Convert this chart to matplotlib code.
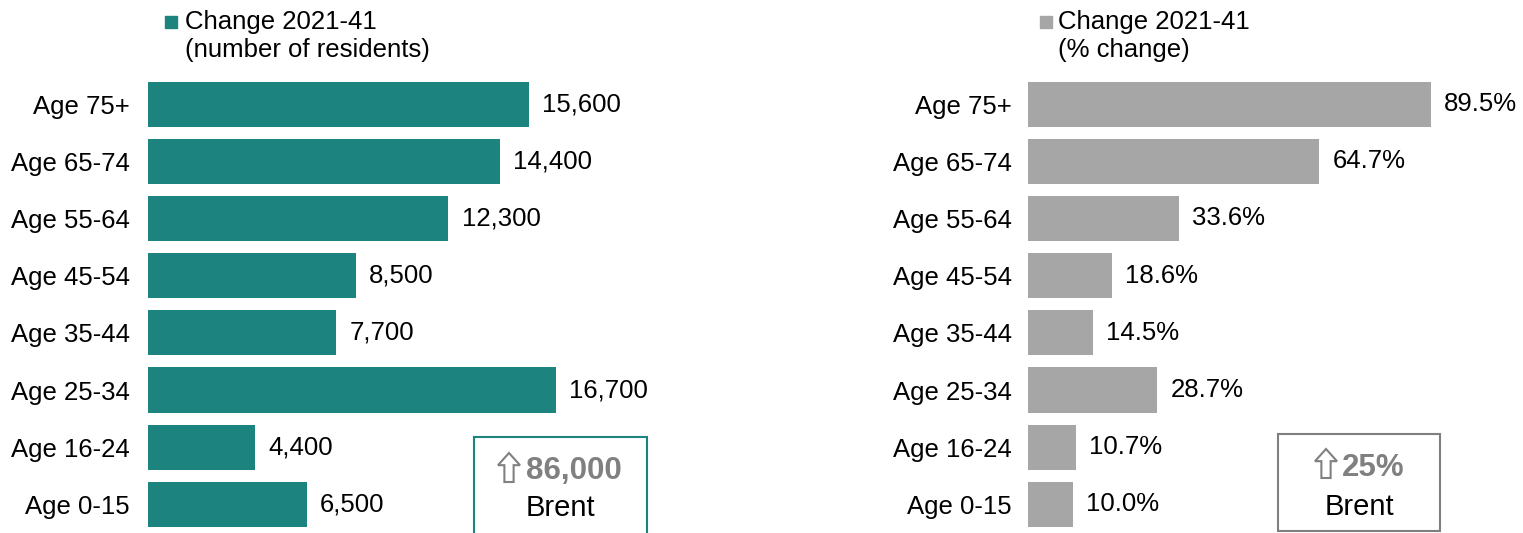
import matplotlib
matplotlib.use("Agg")
import matplotlib.pyplot as plt
from matplotlib.patches import Rectangle, Polygon

plt.rcParams['font.family'] = ['Liberation Sans', 'DejaVu Sans']

categories = ["Age 75+", "Age 65-74", "Age 55-64", "Age 45-54",
              "Age 35-44", "Age 25-34", "Age 16-24", "Age 0-15"]
residents = [15600, 14400, 12300, 8500, 7700, 16700, 4400, 6500]
pct_change = [89.5, 64.7, 33.6, 18.6, 14.5, 28.7, 10.7, 10.0]
legend_left = ["Change 2021-41", "(number of residents)"]
legend_right = ["Change 2021-41", "(% change)"]
total_left = "86,000"
total_right = "25%"
area = "Brent"

TEAL = "#1D837E"
GRAY = "#A6A6A6"
W, H = 1523, 533
FS = 18.5

fig = plt.figure(figsize=(W / 100, H / 100), dpi=100)

def fx(px):
    return px / W

def fy(py):
    return 1 - py / H

ax_top = 75.5
ax_bot = 533
axL = fig.add_axes([fx(148), fy(ax_bot), fx(700 - 148), fy(ax_top) - fy(ax_bot)])
axR = fig.add_axes([fx(1028), fy(ax_bot), fx(1520 - 1028), fy(ax_top) - fy(ax_bot)])

ypos = list(range(len(categories)))

def setup(ax, vals, color, xmax, fmt, pad_lbl):
    bars = ax.barh(ypos, vals, height=0.79, color=color)
    ax.set_ylim(len(categories) - 0.5, -0.5)
    ax.set_xlim(0, xmax)
    ax.set_yticks(ypos)
    ax.set_yticklabels(categories, fontsize=FS)
    ax.tick_params(axis='y', length=0, pad=pad_lbl)
    ax.set_xticks([])
    for s in ax.spines.values():
        s.set_visible(False)
    ax.bar_label(bars, labels=[fmt(v) for v in vals], padding=9.5, fontsize=FS)

setup(axL, residents, TEAL, (700 - 148) / 0.02442, lambda v: f"{v:,}", 13)
setup(axR, pct_change, GRAY, (1520 - 1028) / 4.503, lambda v: f"{v:.1f}%", 11.5)

# legends
def legend(x_sq, x_txt, color, lines):
    fig.patches.append(Rectangle((fx(x_sq), fy(28)), fx(12), fy(16) - fy(28),
                                 transform=fig.transFigure, color=color))
    fig.text(fx(x_txt), fy(22), lines[0], fontsize=FS, va='center', ha='left')
    fig.text(fx(x_txt), fy(50), lines[1], fontsize=FS, va='center', ha='left')

legend(165, 185, TEAL, legend_left)
legend(1040, 1058, GRAY, legend_right)

# outlined up arrow (pixel coordinates -> figure fraction)
def up_arrow(x0, y0, w, h):
    head_h = h * 0.42
    shaft_w = w * 0.42
    cx = x0 + w / 2
    pts = [(cx, y0), (x0 + w, y0 + head_h), (cx + shaft_w / 2, y0 + head_h),
           (cx + shaft_w / 2, y0 + h), (cx - shaft_w / 2, y0 + h),
           (cx - shaft_w / 2, y0 + head_h), (x0, y0 + head_h)]
    fig.patches.append(Polygon([(fx(px), fy(py)) for px, py in pts], closed=True,
                               transform=fig.transFigure, fc='white',
                               ec="#808080", lw=1.5, joinstyle='miter'))

# summary boxes
def box(x0, x1, ytop, ybot, ec, num, arrow_x, arrow_y, num_x, num_y, brent_y, brent_x):
    fig.patches.append(Rectangle((fx(x0), fy(ybot)), fx(x1 - x0), fy(ytop) - fy(ybot),
                                 transform=fig.transFigure, fill=False, ec=ec, lw=1.5))
    up_arrow(arrow_x, arrow_y, 22, 29)
    fig.text(fx(num_x), fy(num_y), num, fontsize=22.5, fontweight='bold',
             color="#808080", ha='left', va='center')
    fig.text(fx(brent_x), fy(brent_y), area, fontsize=21, ha='center', va='center')

box(474, 647, 437, 560, TEAL, total_left, 498, 453, 526, 471, 508, 560)
box(1278, 1440, 434, 531, "#7F7F7F", total_right, 1315, 449, 1342, 468, 507, 1359)

fig.savefig("out.png", dpi=100)
